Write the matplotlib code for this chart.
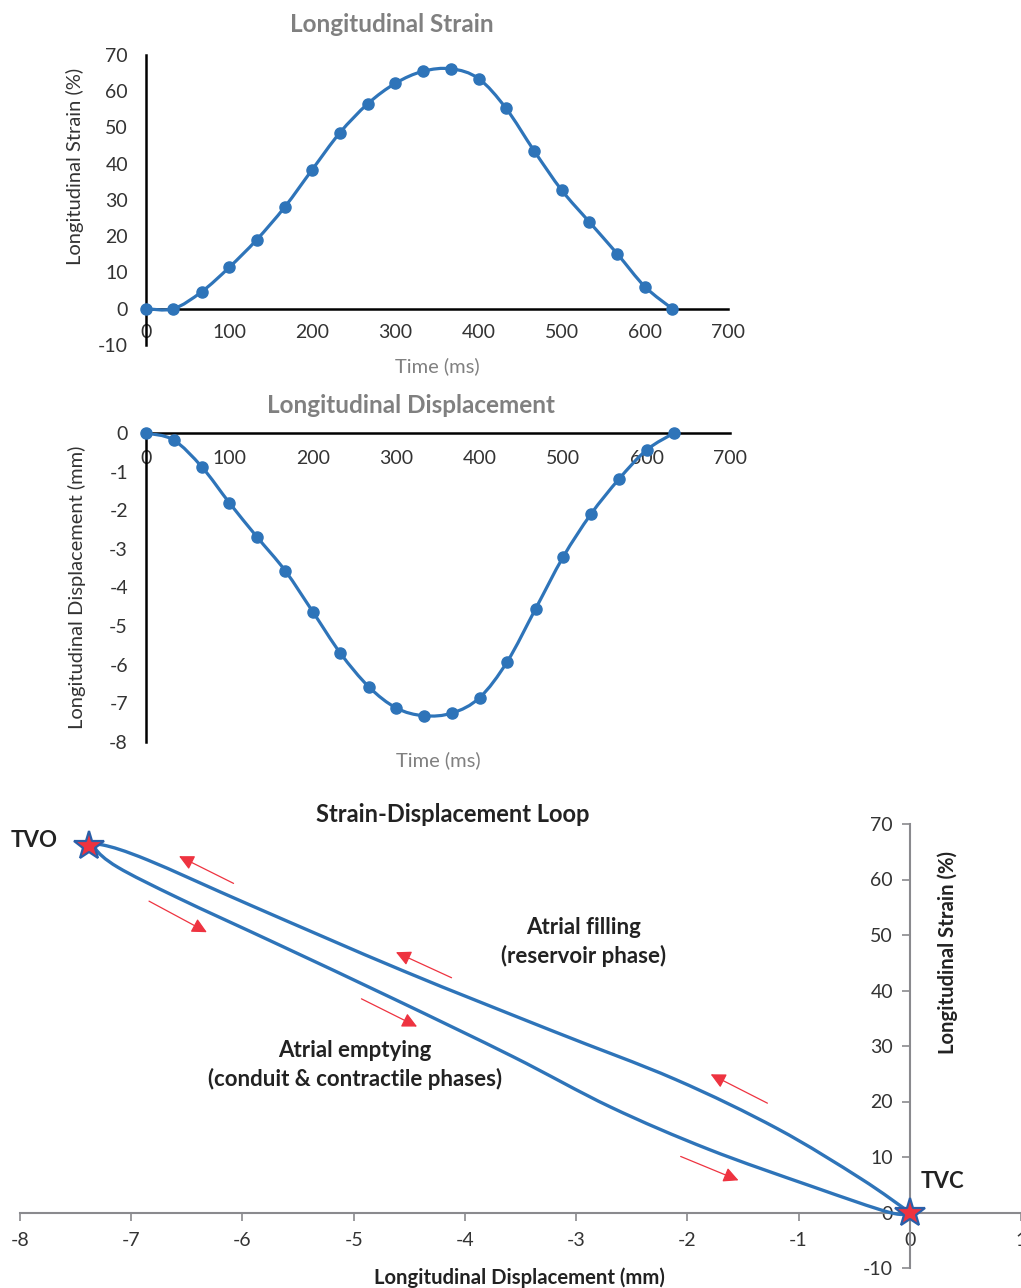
import numpy as np
import matplotlib
matplotlib.use("Agg")
import matplotlib.pyplot as plt
from matplotlib.path import Path
from matplotlib.patches import PathPatch

plt.rcParams["font.family"] = ["Lato", "DejaVu Sans"]
plt.rcParams["axes.unicode_minus"] = False

# --------------------------
# Data
# --------------------------
time_ms = [0, 33, 67, 100, 133, 167, 200, 233, 267, 300,
           333, 367, 400, 433, 467, 500, 533, 567, 600, 633]
strain = [0, 0, 4.7, 11.4, 19.0, 28.1, 38.4, 48.5, 56.6, 62.2,
          65.5, 66.2, 63.5, 55.3, 43.5, 32.7, 24.0, 15.1, 6.1, 0]
displacement = [0, -0.18, -0.88, -1.81, -2.69, -3.57, -4.63, -5.70, -6.57, -7.12,
                -7.32, -7.25, -6.85, -5.92, -4.55, -3.21, -2.11, -1.19, -0.44, 0]

time_ticks = [0, 100, 200, 300, 400, 500, 600, 700]
strain_ticks = [-10, 0, 10, 20, 30, 40, 50, 60, 70]
disp_ticks = [-8, -7, -6, -5, -4, -3, -2, -1, 0]
loop_x_ticks = [-8, -7, -6, -5, -4, -3, -2, -1, 0, 1]

tvo_point = (-7.38, 66.0)
tvc_point = (0, 0)

BLUE = "#2E74B9"
RED = "#EE3340"
GRAY_TITLE = "#808080"
TXT = "#333333"


def smooth_path(xs, ys):
    # Excel-style smoothed line: cubic Bezier through every point
    pts = np.column_stack([xs, ys]).astype(float)
    n = len(pts)
    verts = [pts[0]]
    codes = [Path.MOVETO]
    for i in range(n - 1):
        p0 = pts[max(i - 1, 0)]
        p1 = pts[i]
        p2 = pts[i + 1]
        p3 = pts[min(i + 2, n - 1)]
        verts += [p1 + (p2 - p0) / 6, p2 - (p3 - p1) / 6, p2]
        codes += [Path.CURVE4] * 3
    return Path(verts, codes)


W, H = 1021, 1288
fig = plt.figure(figsize=(W / 100, H / 100), dpi=100)


def px_axes(left, top, right, bottom):
    return fig.add_axes([left / W, 1 - bottom / H, (right - left) / W, (bottom - top) / H])


# --------------------------
# Panel 1: strain vs time
# --------------------------
ax1 = px_axes(146, 55, 728, 345)
ax1.add_patch(PathPatch(smooth_path(time_ms, strain), fill=False, ec=BLUE, lw=2.3, zorder=3))
ax1.plot(time_ms, strain, "o", color=BLUE, ms=8, zorder=4, clip_on=False)
ax1.set_xlim(0, 700)
ax1.set_ylim(-10, 70)
ax1.set_xticks(time_ticks)
ax1.set_yticks(strain_ticks)
ax1.spines["bottom"].set_position(("data", 0))
ax1.spines[["top", "right"]].set_visible(False)
for s in ["left", "bottom"]:
    ax1.spines[s].set_linewidth(1.8)
    ax1.spines[s].set_color("black")
ax1.tick_params(axis="x", length=0, pad=11, labelsize=14, labelcolor=TXT)
ax1.tick_params(axis="y", length=0, pad=13, labelsize=14, labelcolor=TXT)
ax1.set_ylabel("Longitudinal Strain (%)", fontsize=14.5, color=TXT, va="center")
ax1.yaxis.set_label_coords(-0.122, 0.615)
fig.text(437 / W, 1 - 366 / H, "Time (ms)", ha="center", va="center",
         fontsize=14.5, color=GRAY_TITLE)
fig.text(392 / W, 1 - 24 / H, "Longitudinal Strain", ha="center", va="center",
         fontsize=17.5, fontweight="bold", color=GRAY_TITLE)

# --------------------------
# Panel 2: displacement vs time
# --------------------------
ax2 = px_axes(146, 433, 730, 742)
ax2.add_patch(PathPatch(smooth_path(time_ms, displacement), fill=False, ec=BLUE, lw=2.3, zorder=3))
ax2.plot(time_ms, displacement, "o", color=BLUE, ms=8, zorder=4, clip_on=False)
ax2.set_xlim(0, 700)
ax2.set_ylim(-8, 0)
ax2.set_xticks(time_ticks)
ax2.set_yticks(disp_ticks)
ax2.spines["bottom"].set_position(("data", 0))
ax2.spines[["top", "right"]].set_visible(False)
for s in ["left", "bottom"]:
    ax2.spines[s].set_linewidth(1.8)
    ax2.spines[s].set_color("black")
ax2.tick_params(axis="x", length=0, pad=12, labelsize=14, labelcolor=TXT)
ax2.tick_params(axis="y", length=0, pad=13, labelsize=14, labelcolor=TXT)
ax2.set_ylabel("Longitudinal Displacement (mm)", fontsize=14.5, color=TXT, va="center")
ax2.yaxis.set_label_coords(-0.118, 0.5)
fig.text(438 / W, 1 - 760 / H, "Time (ms)", ha="center", va="center",
         fontsize=14.5, color=GRAY_TITLE)
fig.text(411 / W, 1 - 405 / H, "Longitudinal Displacement", ha="center", va="center",
         fontsize=17.5, fontweight="bold", color=GRAY_TITLE)

# --------------------------
# Panel 3: strain-displacement loop
# --------------------------
ax3 = px_axes(20, 824, 1021, 1268)
ax3.add_patch(PathPatch(smooth_path(displacement, strain), fill=False, ec=BLUE, lw=2.4, zorder=3))
ax3.set_xlim(-8, 1)
ax3.set_ylim(-10, 70)
ax3.set_xticks(loop_x_ticks)
ax3.set_yticks(strain_ticks)
ax3.spines["bottom"].set_position(("data", 0))
ax3.spines["left"].set_position(("data", 0))
ax3.spines[["top", "right"]].set_visible(False)
for s in ["left", "bottom"]:
    ax3.spines[s].set_linewidth(1.5)
    ax3.spines[s].set_color("#8A8A8E")
ax3.tick_params(axis="both", direction="out", length=6, width=1.2, color="#8A8A8E",
                labelsize=14, labelcolor=TXT)
ax3.tick_params(axis="x", pad=8)
ax3.tick_params(axis="y", pad=6)

for pt in (tvo_point, tvc_point):
    ax3.plot(*pt, marker="*", ms=22, mfc=RED, mec="#2B5FA8", mew=1.6, zorder=5, clip_on=False)

ax3.text(-7.87, 67.0, "TVO", ha="center", va="center", fontsize=16, fontweight="bold", color="#222222")
ax3.text(0.29, 5.5, "TVC", ha="center", va="center", fontsize=16, fontweight="bold", color="#222222")
ax3.text(-2.93, 48.7, "Atrial filling\n(reservoir phase)", ha="center", va="center",
         fontsize=16, fontweight="bold", color="#222222", linespacing=1.4)
ax3.text(-4.99, 26.6, "Atrial emptying\n(conduit & contractile phases)", ha="center", va="center",
         fontsize=16, fontweight="bold", color="#222222", linespacing=1.4)

# direction arrows: (tail, head)
arrows = [
    ((-6.08, 59.3), (-6.57, 64.2)),
    ((-6.84, 56.1), (-6.32, 50.5)),
    ((-4.12, 42.3), (-4.62, 46.9)),
    ((-4.93, 38.5), (-4.43, 33.5)),
    ((-1.28, 19.7), (-1.79, 24.9)),
    ((-2.06, 10.1), (-1.54, 5.8)),
]
for tail, head in arrows:
    ax3.annotate("", xy=head, xytext=tail,
                 arrowprops=dict(arrowstyle="-|>,head_length=0.9,head_width=0.45",
                                 mutation_scale=10, color=RED, lw=0.9,
                                 shrinkA=0, shrinkB=0))

fig.text(453 / W, 1 - 814 / H, "Strain-Displacement Loop", ha="center", va="center",
         fontsize=17, fontweight="bold", color="#222222")
fig.text(519 / W, 1 - 1278 / H, "Longitudinal Displacement (mm)", ha="center", va="center",
         fontsize=14.6, fontweight="bold", color="#222222")
fig.text(948 / W, 1 - 952 / H, "Longitudinal Strain (%)", ha="center", va="center",
         rotation=90, fontsize=14.6, fontweight="bold", color="#222222")

fig.savefig("out.png", dpi=100)
